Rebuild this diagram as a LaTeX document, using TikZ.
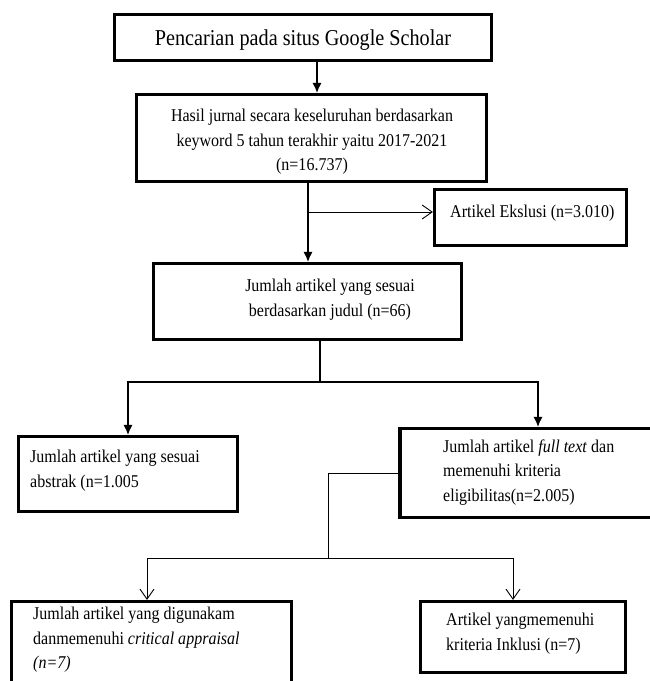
\documentclass[tikz,border=0pt]{standalone}
\usepackage{fontspec}
\setmainfont[FakeStretch=0.89]{Liberation Serif}
\usetikzlibrary{arrows.meta,positioning}

\begin{document}
\begin{tikzpicture}[x=1pt, y=-1pt,
  font=\fontsize{18}{24.5}\selectfont,
  box/.style={draw=black, line width=3.2pt, inner sep=0pt},
  txt/.style={inner sep=0pt, align=left},
  arr/.style={-{Latex[length=10pt,width=9pt]}, line width=1.1pt},
  arrv/.style={-{Straight Barb[length=10pt,width=14pt]}, line width=0.9pt}
]
\clip (0,0) rectangle (650,681);

%% ---------- search ----------
\node[box, minimum width=377, minimum height=46] (search) at (303,37.5) {};
\node[txt, font=\fontsize{22.7}{26}\selectfont] (searchtxt) at (303,40) {Pencarian pada situs Google Scholar};

\node[box, minimum width=350, minimum height=87] (hasil) at (311.5,138) {};
\node[txt, align=center] (hasiltxt) at (312,142) {Hasil jurnal secara keseluruhan berdasarkan\\keyword 5 tahun terakhir yaitu 2017-2021\\(n=16.737)};

\draw[arr] (317,0 |- search.south) -- (317,0 |- hasil.north);

%% ---------- exclusion ----------
\node[box, minimum width=192, minimum height=56] (ekslusi) at (530.5,217.5) {};
\node[txt, anchor=west] (ekslusitxt) at (450,213) {Artikel Ekslusi (n=3.010)};

\node[box, minimum width=308, minimum height=76] (judul) at (307.5,301.5) {};
\node[txt, align=center] (judultxt) at (330,299.5) {Jumlah artikel yang sesuai\\berdasarkan judul (n=66)};

\coordinate (exc) at (308,212);
\draw[arr] (308,0 |- hasil.south) -- (308,0 |- judul.north);
\draw[arrv] (exc) -- (exc -| ekslusi.west);

%% ---------- abstract / full text ----------
\node[box, minimum width=219, minimum height=75] (abstrak) at (128,474) {};
\node[txt, anchor=west] (abstraktxt) at (30,470.5) {Jumlah artikel yang sesuai\\abstrak (n=1.005};

\node[box, minimum width=276, minimum height=89] (fulltext) at (538,473) {};
\node[txt, anchor=west] (fulltexttxt) at (443,472.5) {Jumlah artikel \textit{full text} dan\\memenuhi kriteria\\eligibilitas(n=2.005)};

\coordinate (split1) at (320,382);
\draw[line width=1.1pt] (320,0 |- judul.south) -- (split1);
\draw[arr] (split1) -| (abstrak.north);
\draw[arr] (split1) -| (fulltext.north);

%% ---------- final selection ----------
\node[box, minimum width=280, minimum height=97] (critical) at (151.5,650) {};
\node[txt, anchor=west] (criticaltxt) at (33,640) {Jumlah artikel yang digunakam\\danmemenuhi \textit{critical appraisal}\\\textit{(n=7)}};

\node[box, minimum width=205, minimum height=71] (inklusi) at (523,637) {};
\node[txt, anchor=west] (inklusitxt) at (446,633.5) {Artikel yangmemenuhi\\kriteria Inklusi (n=7)};

\coordinate (split2) at (328,558);
\draw[line width=0.9pt] (fulltext.west) -| (split2);
\draw[arrv] (split2) -| (147,0 |- critical.north);
\draw[arrv] (split2) -| (513,0 |- inklusi.north);

\end{tikzpicture}
\end{document}
